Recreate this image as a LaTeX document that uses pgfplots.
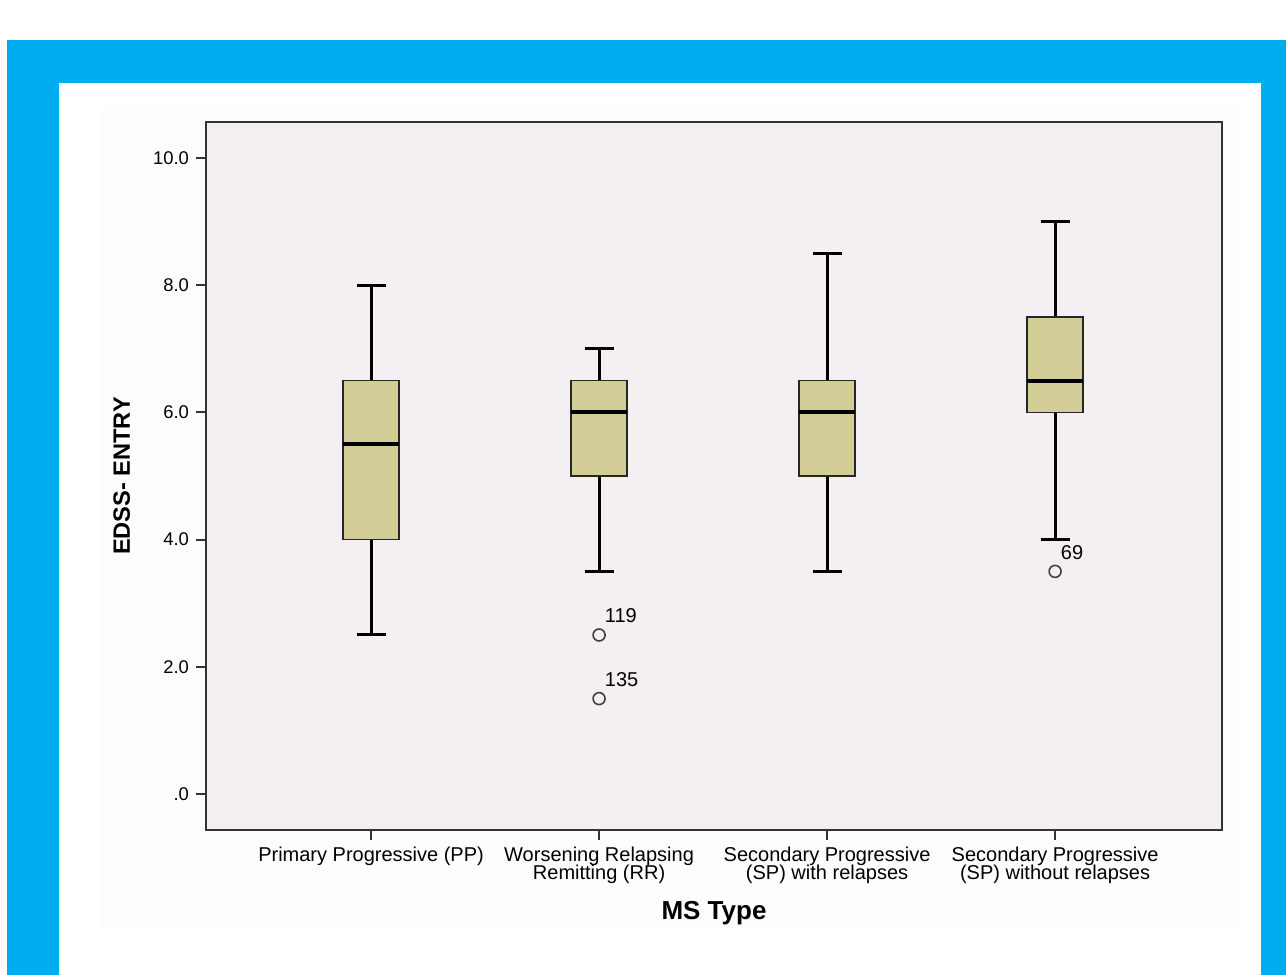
\documentclass[border=0pt]{standalone}
\usepackage{pgfplots}
\pgfplotsset{compat=1.18}
\usepgfplotslibrary{statistics}
\usepackage{fontspec}
\setmainfont{Liberation Sans}
\definecolor{frameblue}{HTML}{00AEEF}
\definecolor{boxfill}{HTML}{D3CE97}
\definecolor{plotbg}{HTML}{F3EFF3}
\definecolor{chartbg}{HTML}{FDFDFD}
\newcommand\catfont{\fontsize{10}{9}\selectfont\lineskiplimit=-10pt\relax\lineskip=0pt\relax}
\begin{document}
\begin{tikzpicture}
\fill[white] (0pt,0pt) rectangle (643pt,487.5pt);
\fill[frameblue] (3.5pt,0pt) rectangle (643pt,467.5pt);
\fill[white] (29.5pt,0pt) rectangle (630.5pt,446pt);
\fill[chartbg] (50pt,22.5pt) rectangle (620pt,434pt);
\begin{axis}[
  at={(103pt,72.5pt)}, anchor=south west,
  scale only axis, width=508pt, height=354pt,
  xmin=-0.724, xmax=3.732, ymin=-0.566, ymax=10.566,
  axis background/.style={fill=plotbg},
  axis line style={draw=black!80, line width=1pt},
  tick style={draw=black!80, line width=1pt},
  major tick length=5pt, tick align=outside,
  xtick pos=bottom, ytick pos=left,
  xtick={0,1,2,3},
  xticklabels={Primary Progressive (PP), Worsening Relapsing\\Remitting (RR), Secondary Progressive\\(SP) with relapses, Secondary Progressive\\(SP) without relapses},
  xticklabel style={align=center, font=\catfont},
  ytick={0,2,4,6,8,10},
  yticklabels={.0,2.0,4.0,6.0,8.0,10.0},
  yticklabel style={font=\fontsize{9.2}{10}\selectfont},
  xlabel={\textbf{MS Type}},
  ylabel={\textbf{EDSS- ENTRY}},
  xlabel style={at={(axis description cs:0.5,-0.117)}, anchor=center, font=\fontsize{13}{15}\selectfont},
  ylabel style={at={(axis description cs:-0.083,0.5)}, anchor=center, font=\fontsize{11.8}{13}\selectfont},
  boxplot/draw direction=y,
  boxplot/box extend=0.246,
  boxplot/whisker extend=0.127,
  boxplot/every box/.style={draw=black!85, line width=0.75pt, fill=boxfill},
  boxplot/every whisker/.style={draw=black, line width=1.5pt},
  boxplot/every median/.style={draw=black, line width=2pt},
]
\addplot[boxplot prepared={draw position=0, lower whisker=2.5, lower quartile=4, median=5.5, upper quartile=6.5, upper whisker=8}] coordinates {};
\addplot[boxplot prepared={draw position=1, lower whisker=3.5, lower quartile=5, median=6, upper quartile=6.5, upper whisker=7}] coordinates {};
\addplot[boxplot prepared={draw position=2, lower whisker=3.5, lower quartile=5, median=6, upper quartile=6.5, upper whisker=8.5}] coordinates {};
\addplot[boxplot prepared={draw position=3, lower whisker=4, lower quartile=6, median=6.5, upper quartile=7.5, upper whisker=9}] coordinates {};
\addplot[only marks, mark=o, mark size=3pt, draw=black!75, mark options={line width=0.8pt},
  nodes near coords, point meta=explicit symbolic,
  every node near coord/.style={anchor=base west, inner sep=0pt, xshift=2.5pt, yshift=6pt, font=\fontsize{10}{11}\selectfont, text=black}]
  coordinates {(1,2.5)[119] (1,1.5)[135] (3,3.5)[69]};
\end{axis}
\end{tikzpicture}
\end{document}
